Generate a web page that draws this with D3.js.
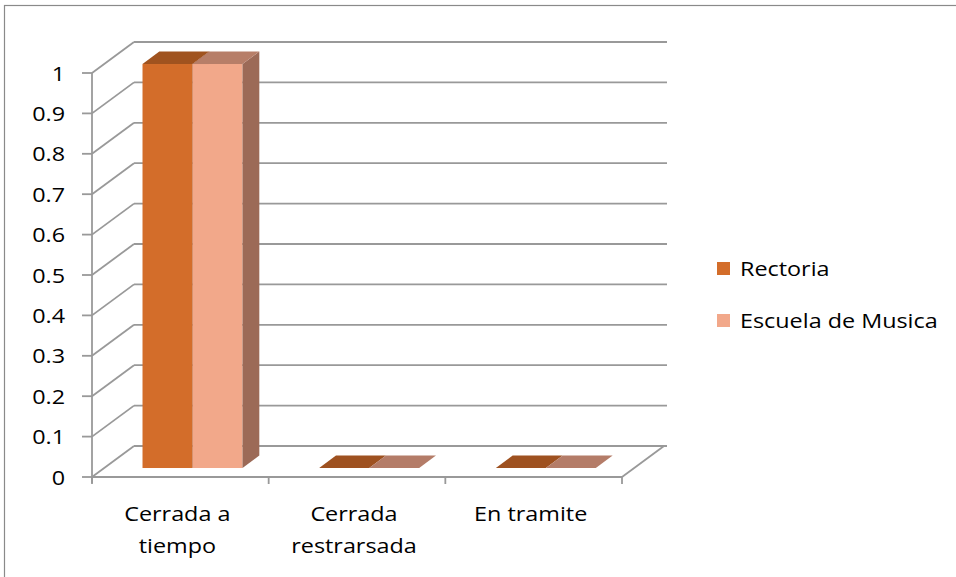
<!DOCTYPE html>
<html>
<head>
<meta charset="utf-8">
<script src="https://cdn.jsdelivr.net/npm/d3@7"></script>
<style>
  html, body { margin: 0; padding: 0; background: #fff; }
  svg { display: block; }
  text { font-family: "Open Sans", "Noto Sans", sans-serif; fill: #000; }
</style>
</head>
<body>
<svg id="chart"></svg>
<script>
// chart data
const categories = ["Cerrada a tiempo", "Cerrada restrarsada", "En tramite"];
const categoryLines = [["Cerrada a", "tiempo"], ["Cerrada", "restrarsada"], ["En tramite"]];
const seriesNames = ["Rectoria", "Escuela de Musica"];
const rectoriaValues = [1, 0, 0];
const escuelaValues = [1, 0, 0];
const yTickValues = [0, 0.1, 0.2, 0.3, 0.4, 0.5, 0.6, 0.7, 0.8, 0.9, 1];
const yTickLabels = ["0", "0.1", "0.2", "0.3", "0.4", "0.5", "0.6", "0.7", "0.8", "0.9", "1"];

const width = 956, height = 577;
const svg = d3.select("#chart").attr("width", width).attr("height", height);

// series colours: front, top, side
const colors = [
  { front: "#D36D2A", top: "#A0531F", side: "#8E4A1C" },
  { front: "#F2A88A", top: "#B77E68", side: "#9C6A57" }
];
const gridColor = "#999999";
const stretch = 1.14; // text in the reference is stretched horizontally
const fontSize = "20.5px";

// 3d depth offset for the whole floor
const DX = 42, DY = -31;
const barFront = 0.29, barBack = 0.69;

const x = d3.scaleBand().domain(categories).range([92, 622]);
const y = d3.scaleLinear().domain([0, 1]).range([477, 73]);
const xs = d3.scaleBand().domain(seriesNames).range([0, 100]);

// outer border
svg.append("rect")
  .attr("x", 4.5).attr("y", 5.5).attr("width", 980).attr("height", 600)
  .attr("fill", "none").attr("stroke", "#8a8a8a").attr("stroke-width", 1.2);

const walls = svg.append("g")
  .attr("stroke", gridColor).attr("stroke-width", 1.8).attr("fill", "none");

// side wall diagonals and back wall gridlines
yTickValues.forEach(v => {
  const y0 = y(v);
  walls.append("line")
    .attr("x1", x.range()[0]).attr("y1", y0)
    .attr("x2", x.range()[0] + DX).attr("y2", y0 + DY);
  walls.append("line")
    .attr("x1", x.range()[0] + DX).attr("y1", y0 + DY)
    .attr("x2", x.range()[1] + DX + 3).attr("y2", y0 + DY);
  // tick marks on value axis
  walls.append("line")
    .attr("x1", x.range()[0] - 10).attr("y1", y0)
    .attr("x2", x.range()[0]).attr("y2", y0);
});

// floor edges
walls.append("line")
  .attr("x1", x.range()[0]).attr("y1", y(0))
  .attr("x2", x.range()[1]).attr("y2", y(0));
walls.append("line")
  .attr("x1", x.range()[1]).attr("y1", y(0))
  .attr("x2", x.range()[1] + DX).attr("y2", y(0) + DY);

// value axis line
walls.append("line")
  .attr("x1", x.range()[0]).attr("y1", y(1))
  .attr("x2", x.range()[0]).attr("y2", y(0) + 6);

// category tick marks
const catTicks = categories.map(c => x(c)).concat([x.range()[1]]);
catTicks.forEach(cx => {
  walls.append("line")
    .attr("x1", cx).attr("y1", y(0))
    .attr("x2", cx).attr("y2", y(0) + 7);
});

// value labels
svg.append("g").selectAll("text")
  .data(yTickValues)
  .join("text")
  .attr("transform", d => `translate(65, ${y(d) + 7.5}) scale(${stretch},1)`)
  .attr("text-anchor", "end")
  .style("font-size", fontSize)
  .text((d, i) => yTickLabels[i]);

// bars
const seriesData = [rectoriaValues, escuelaValues];
const bars = svg.append("g");

categories.forEach((cat, ci) => {
  const cx = x(cat) + x.bandwidth() / 2;
  seriesNames.forEach((s, si) => {
    const v = seriesData[si][ci];
    const col = colors[si];
    const fx0 = cx - 50 + xs(s) + DX * barFront;
    const fx1 = fx0 + xs.bandwidth();
    const fyTop = y(v) + DY * barFront;
    const fyBot = y(0) + DY * barFront;
    const ddx = DX * (barBack - barFront), ddy = DY * (barBack - barFront);

    // front face
    if (v > 0) {
      bars.append("rect")
        .attr("x", fx0).attr("y", fyTop)
        .attr("width", fx1 - fx0).attr("height", fyBot - fyTop)
        .attr("fill", col.front);
      // right side face
      bars.append("path")
        .attr("d", `M${fx1},${fyTop} L${fx1 + ddx},${fyTop + ddy} L${fx1 + ddx},${fyBot + ddy} L${fx1},${fyBot} Z`)
        .attr("fill", col.side);
    }
    // top face
    bars.append("path")
      .attr("d", `M${fx0},${fyTop} L${fx0 + ddx},${fyTop + ddy} L${fx1 + ddx},${fyTop + ddy} L${fx1},${fyTop} Z`)
      .attr("fill", v > 0 ? col.top : (si === 0 ? "#9E5120" : "#B47C68"));
  });
});

// category labels
const catLabels = svg.append("g");
categories.forEach((cat, ci) => {
  const cx = x(cat) + x.bandwidth() / 2 - 3;
  categoryLines[ci].forEach((line, li) => {
    catLabels.append("text")
      .attr("transform", `translate(${cx}, ${521 + li * 32}) scale(${stretch},1)`)
      .attr("text-anchor", "middle")
      .style("font-size", fontSize)
      .text(line);
  });
});

// legend
const legend = svg.append("g");
seriesNames.forEach((s, i) => {
  const ly = 262 + i * 52;
  legend.append("rect")
    .attr("x", 717).attr("y", ly).attr("width", 13).attr("height", 13)
    .attr("fill", colors[i].front);
  legend.append("text")
    .attr("transform", `translate(740, ${ly + 14}) scale(${stretch},1)`)
    .style("font-size", fontSize)
    .text(s);
});
</script>
</body>
</html>
